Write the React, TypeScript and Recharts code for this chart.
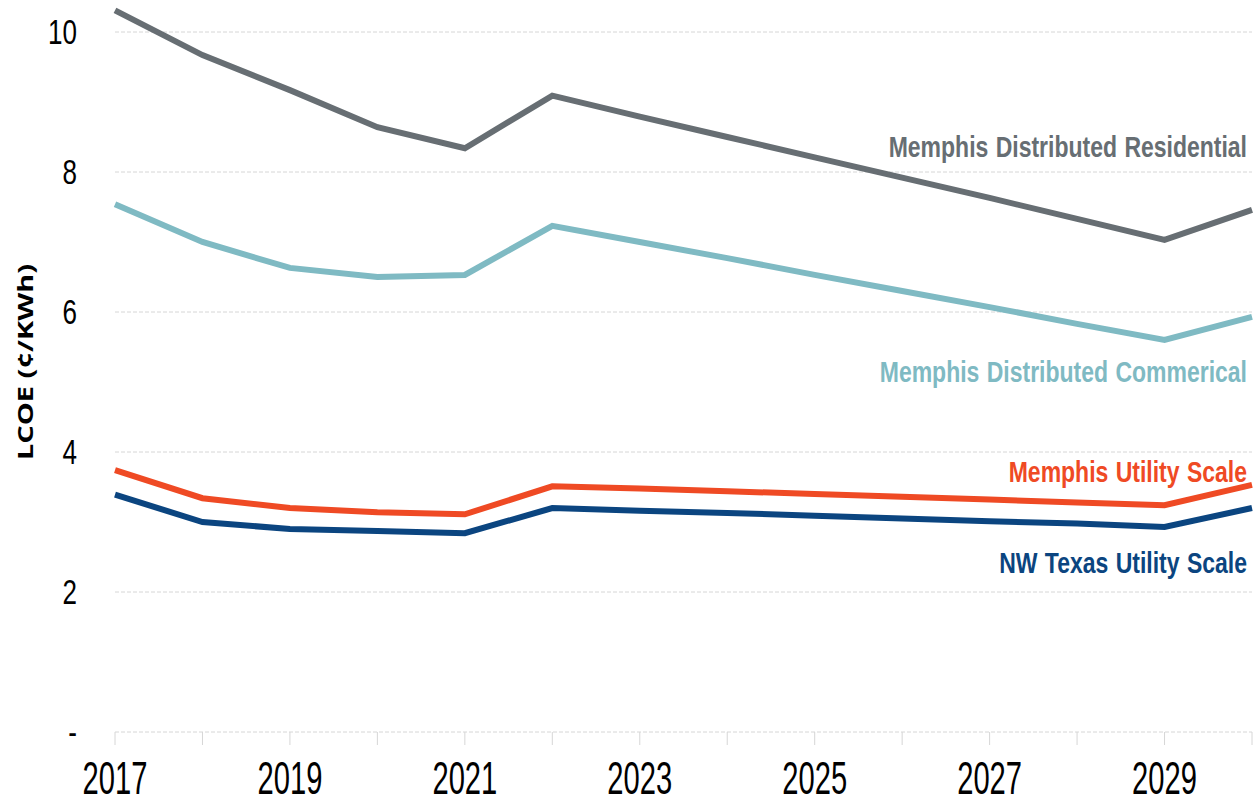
import React from 'react';
import {
  LineChart,
  Line,
  XAxis,
  YAxis,
  CartesianGrid,
  ReferenceDot,
  Label,
} from 'recharts';

const years = [2017, 2018, 2019, 2020, 2021, 2022, 2023, 2024, 2025, 2026, 2027, 2028, 2029, 2030];
const residential = [10.31, 9.67, 9.17, 8.64, 8.34, 9.09, 8.79, 8.5, 8.21, 7.92, 7.63, 7.33, 7.03, 7.46];
const commercial = [7.54, 7.0, 6.63, 6.5, 6.53, 7.23, 7.0, 6.77, 6.53, 6.3, 6.07, 5.83, 5.6, 5.93];
const memphisUtility = [3.74, 3.34, 3.2, 3.14, 3.11, 3.51, 3.48, 3.44, 3.4, 3.36, 3.32, 3.28, 3.24, 3.53];
const nwTexas = [3.39, 3.0, 2.9, 2.87, 2.84, 3.2, 3.16, 3.13, 3.09, 3.05, 3.01, 2.98, 2.93, 3.2];

const yTicks = [0, 2, 4, 6, 8, 10];

// where each line's name sits (value of its baseline at the right edge)
const seriesLabels = [
  { name: 'Memphis Distributed Residential', at: 8.214, color: '#676e73' },
  { name: 'Memphis Distributed Commerical', at: 5.0, color: '#7fbac3' },
  { name: 'Memphis Utility Scale', at: 3.571, color: '#ef4a24' },
  { name: 'NW Texas Utility Scale', at: 2.271, color: '#0b4580' },
];

const data = years.map((year, i) => ({
  year,
  residential: residential[i],
  commercial: commercial[i],
  memphisUtility: memphisUtility[i],
  nwTexas: nwTexas[i],
}));

const NARROW = "'Liberation Sans Narrow', 'Liberation Sans', Arial, sans-serif";

const XTick = (props: any) => {
  const { x, y, payload } = props;
  const v = payload.value as number;
  if ((v - 2017) % 2 !== 0) return null;
  return (
    <text
      x={0}
      y={0}
      transform={`translate(${x}, ${y + 49}) scale(0.81, 1.3)`}
      textAnchor="middle"
      fontFamily={NARROW}
      fontSize={36}
      fill="#000"
    >
      {v}
    </text>
  );
};

const YTick = (props: any) => {
  const { x, y, payload } = props;
  const v = payload.value as number;
  return (
    <text
      x={0}
      y={0}
      transform={`translate(${x}, ${y + 12}) scale(0.84, 1.15)`}
      textAnchor="end"
      fontFamily={NARROW}
      fontSize={31}
      fill="#000"
    >
      {v === 0 ? '-' : v}
    </text>
  );
};

const App: React.FC = () => {
  return (
    <div style={{ position: 'absolute', left: 0, top: -38, width: 1253, height: 843, background: '#fff' }}>
      <LineChart width={1253} height={843} data={data} margin={{ top: 0, right: 1, left: 0, bottom: 0 }}>
        <CartesianGrid vertical={false} stroke="#d6d6d6" strokeDasharray="4 2" />
        <XAxis
          dataKey="year"
          type="number"
          domain={[2017, 2030]}
          ticks={years}
          interval={0}
          axisLine={false}
          tickLine={{ stroke: '#d6d6d6' }}
          tickSize={13}
          tickMargin={0}
          height={73}
          tick={<XTick />}
        />
        <YAxis
          type="number"
          domain={[0, 11]}
          ticks={yTicks}
          width={115}
          axisLine={false}
          tickLine={false}
          tickSize={0}
          tickMargin={38}
          tick={<YTick />}
        >
          <Label
            content={(p: any) => {
              const vb = p.viewBox || { x: 0, y: 0, width: 115, height: 770 };
              const cy = vb.y + vb.height / 2 + 15;
              return (
                <text
                  x={0}
                  y={0}
                  transform={`translate(33, ${cy}) rotate(-90) scale(1.38, 1)`}
                  textAnchor="middle"
                  fontFamily="'Open Sans', 'DejaVu Sans', sans-serif"
                  fontWeight={700}
                  fontSize={21}
                  fill="#000"
                >
                  LCOE (¢/KWh)
                </text>
              );
            }}
          />
        </YAxis>
        <Line dataKey="residential" stroke="#676e73" strokeWidth={6} dot={false} isAnimationActive={false} />
        <Line dataKey="commercial" stroke="#7fbac3" strokeWidth={6} dot={false} isAnimationActive={false} />
        <Line dataKey="memphisUtility" stroke="#ef4a24" strokeWidth={6} dot={false} isAnimationActive={false} />
        <Line dataKey="nwTexas" stroke="#0b4580" strokeWidth={6} dot={false} isAnimationActive={false} />
        {seriesLabels.map((s) => (
          <ReferenceDot
            key={s.name}
            x={2030}
            y={s.at}
            r={0}
            fill="none"
            stroke="none"
            ifOverflow="visible"
            label={{
              content: (p: any) => {
                const vb = p.viewBox || { x: 0, y: 0 };
                return (
                  <text
                    x={0}
                    y={0}
                    transform={`translate(${vb.x - 5}, ${vb.y}) scale(1, 1.25)`}
                    textAnchor="end"
                    fontFamily={NARROW}
                    fontWeight={700}
                    fontSize={23}
                    wordSpacing={1}
                    fill={s.color}
                  >
                    {s.name}
                  </text>
                );
              },
            }}
          />
        ))}
      </LineChart>
    </div>
  );
};

export default App;
